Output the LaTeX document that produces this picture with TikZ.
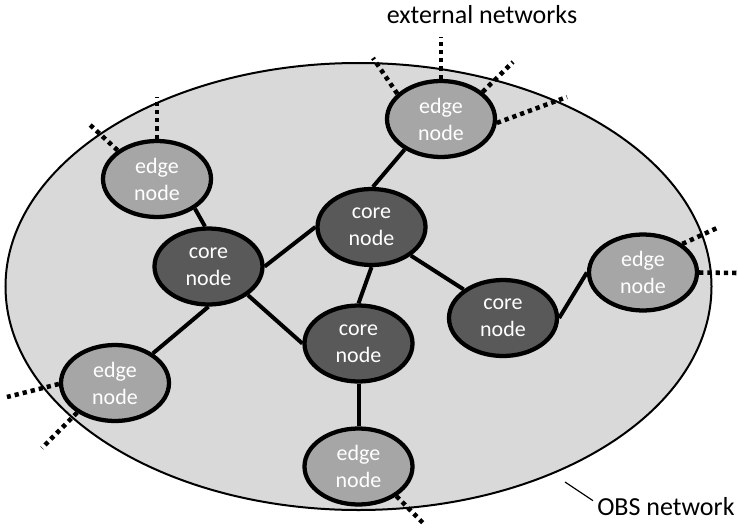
\documentclass[tikz,border=0pt]{standalone}
\usepackage{fontspec}
\setmainfont{Carlito}
\usetikzlibrary{shapes.geometric,calc}
\definecolor{netfill}{HTML}{D9D9D9}
\definecolor{edgefill}{HTML}{A6A6A6}
\definecolor{corefill}{HTML}{595959}
\begin{document}
\begin{tikzpicture}[x=0.75pt,y=-0.75pt,
  netnode/.style={ellipse, draw=black, line width=3.2pt, minimum width=81pt,
    minimum height=57pt, inner sep=0pt, text=white, align=center,
    font=\fontsize{16.5}{20.25}\selectfont},
  edgenode/.style={netnode, fill=edgefill},
  corenode/.style={netnode, fill=corefill},
  link/.style={line width=3pt},
  extlink/.style={line width=3.4pt, dash pattern=on 3.2pt off 3pt},
  caption/.style={font=\fontsize{19.5}{23}\selectfont, inner sep=0pt},
]
\useasboundingbox (0,0) rectangle (738,528);

% the OBS network area
\node[ellipse, draw=black, line width=1.5pt, fill=netfill, inner sep=0pt,
  minimum width=529.5pt, minimum height=335.25pt] (obs) at (358.5,286.5) {};

% edge nodes
\node[edgenode] (et)  at (441,119)     {edge\\node};
\node[edgenode] (etl) at (157,179)     {edge\\node};
\node[edgenode] (er)  at (643,272.5)   {edge\\node};
\node[edgenode] (ebl) at (115,383)     {edge\\node};
\node[edgenode] (eb)  at (358.5,466.5) {edge\\node};

% core nodes
\node[corenode] (cl) at (208.5,266.5) {core\\node};
\node[corenode] (ct) at (371.5,227)   {core\\node};
\node[corenode] (cb) at (358.5,343.5) {core\\node};
\node[corenode] (cr) at (503,318)     {core\\node};

% internal links
\draw[link] (et.220) -- (ct.88);
\draw[link] (etl.322) -- (cl.95);
\draw[link] (cl.east) -- (ct.west);
\draw[link] (cl.324) -- (cb.west);
\draw[link] (cl.south) -- (ebl.38);
\draw[link] (ct.south) -- (cb.north);
\draw[link] (ct.324) -- (cr.144);
\draw[link] (cb.south) -- (eb.north);
\draw[link] (cr.east) -- (er.west);

% loose ends towards external networks
\coordinate (x1) at (441,37);
\coordinate (x2) at (373,58);
\coordinate (x3) at (513,62);
\coordinate (x4) at (567,97);
\coordinate (x5) at (157,97);
\coordinate (x6) at (88,123);
\coordinate (x7) at (717,228);
\coordinate (x8) at (737,273);
\coordinate (x9) at (7,397);
\coordinate (x10) at (42,448);
\coordinate (x11) at (423,523);

\draw[extlink] (et.90) -- (x1);
\draw[extlink] (et.150) -- (x2);
\draw[extlink] (et.33) -- (x3);
\draw[extlink] (et.-4) -- (x4);
\draw[extlink] (etl.90) -- (x5);
\draw[extlink] (etl.144) -- (x6);
\draw[extlink] (er.36) -- (x7);
\draw[extlink] (er.0) -- (x8);
\draw[extlink] (ebl.181) -- (x9);
\draw[extlink] (ebl.218) -- (x10);
\draw[extlink] (eb.322) -- (x11);

% captions
\node[caption, anchor=base] (ext) at (482,24) {external networks};
\node[caption, anchor=base west] (lbl) at (597,515) {OBS network};
\coordinate (lead) at (565,482);
\draw[line width=0.9pt] (lead) -- ($(lbl.north west)+(-4,4)$);
\end{tikzpicture}
\end{document}
